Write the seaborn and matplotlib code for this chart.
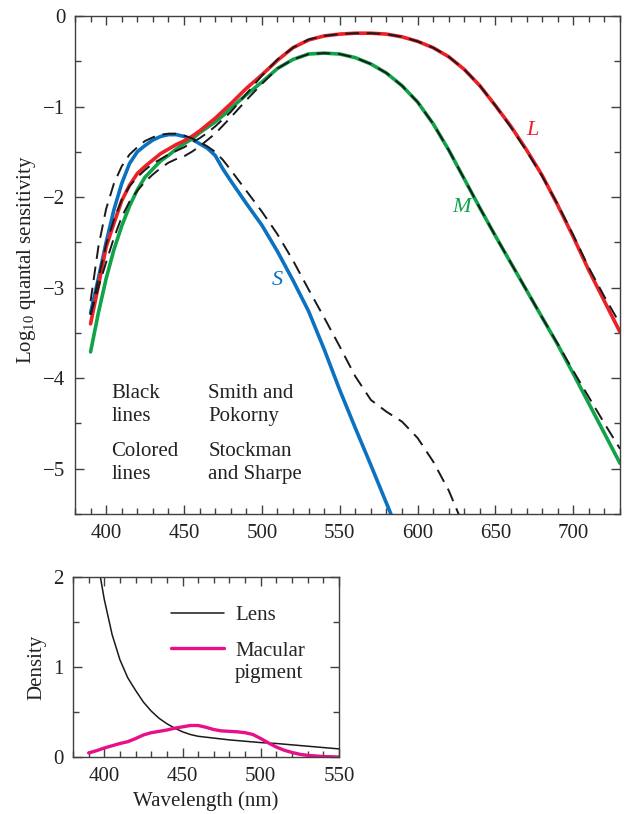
import matplotlib
matplotlib.use('Agg')
import matplotlib.pyplot as plt
import seaborn as sns
import numpy as np
from matplotlib.ticker import MultipleLocator

nan = np.nan

# wavelength grid (nm) for the cone sensitivities
wl = [390, 395, 400, 405, 410, 415, 420, 425, 430, 435, 440, 445, 450, 455, 460,
      465, 470, 475, 480, 490, 500, 510, 520, 530, 540, 550, 560, 570, 580, 590,
      600, 610, 620, 630, 640, 650, 660, 670, 680, 690, 700, 710, 720, 730]

# Stockman and Sharpe (colored lines)
ss_L = [-3.40, -2.98, -2.55, -2.29, -2.04, -1.87, -1.74, -1.66, -1.59, -1.52, -1.47,
        -1.42, -1.38, -1.33, -1.27, -1.20, -1.13, -1.05, -0.97, -0.80, -0.65, -0.49,
        -0.35, -0.265, -0.22, -0.20, -0.19, -0.19, -0.20, -0.23, -0.28, -0.35, -0.45,
        -0.59, -0.77, -0.99, -1.22, -1.48, -1.76, -2.09, -2.44, -2.81, -3.15, -3.49]
ss_M = [-3.71, -3.28, -2.90, -2.58, -2.32, -2.10, -1.92, -1.78, -1.69, -1.60, -1.54,
        -1.47, -1.41, -1.36, -1.29, -1.23, -1.17, -1.10, -1.02, -0.87, -0.73, -0.58,
        -0.48, -0.42, -0.41, -0.42, -0.46, -0.53, -0.63, -0.77, -0.95, -1.19, -1.48,
        -1.80, -2.12, -2.43, -2.73, -3.03, -3.33, -3.63, -3.95, -4.28, -4.61, -4.94]
ss_S = [-3.28, -2.90, -2.50, -2.14, -1.85, -1.63, -1.50, -1.43, -1.37, -1.33, -1.31,
        -1.31, -1.33, -1.36, -1.41, -1.46, -1.54, -1.69, -1.82, -2.07, -2.31, -2.60,
        -2.92, -3.26, -3.68, -4.13, -4.55, -4.96, -5.38, -5.80, nan, nan, nan,
        nan, nan, nan, nan, nan, nan, nan, nan, nan, nan, nan]

# Smith and Pokorny (black dashed lines)
sp_L = [-3.30, -2.90, -2.52, -2.25, -2.03, -1.88, -1.78, -1.70, -1.63, -1.58, -1.53,
        -1.49, -1.45, -1.40, -1.35, -1.29, -1.22, -1.14, -1.06, -0.86, -0.66, -0.48,
        -0.35, -0.26, -0.22, -0.20, -0.19, -0.19, -0.20, -0.23, -0.28, -0.35, -0.45,
        -0.59, -0.77, -0.99, -1.23, -1.49, -1.77, -2.08, -2.42, -2.78, -3.10, -3.40]
sp_M = [-3.30, -3.00, -2.72, -2.45, -2.22, -2.05, -1.93, -1.83, -1.75, -1.68, -1.62,
        -1.58, -1.55, -1.50, -1.44, -1.37, -1.30, -1.21, -1.12, -0.93, -0.75, -0.58,
        -0.48, -0.42, -0.41, -0.42, -0.46, -0.53, -0.63, -0.77, -0.95, -1.19, -1.48,
        -1.80, -2.12, -2.43, -2.73, -3.03, -3.33, -3.62, -3.92, -4.21, -4.50, -4.78]
sp_S = [-3.15, -2.55, -2.13, -1.85, -1.66, -1.53, -1.45, -1.38, -1.34, -1.31, -1.30,
        -1.30, -1.32, -1.35, -1.39, -1.44, -1.50, -1.59, -1.70, -1.93, -2.16, -2.41,
        -2.70, -3.02, -3.33, -3.65, -3.98, -4.24, -4.37, -4.48, -4.66, -4.92, -5.24,
        -5.65, nan, nan, nan, nan, nan, nan, nan, nan, nan, nan]

# lower panel: lens and macular pigment density
lens_wl = [395, 400, 405, 410, 415, 420, 425, 430, 435, 440, 445, 450, 455, 460,
           470, 480, 490, 500, 510, 520, 530, 540, 550]
lens = [2.25, 1.75, 1.36, 1.08, 0.88, 0.74, 0.61, 0.51, 0.43, 0.37, 0.32, 0.28,
        0.25, 0.23, 0.21, 0.19, 0.175, 0.16, 0.15, 0.135, 0.12, 0.105, 0.09]
mac_wl = [390, 395, 400, 405, 410, 415, 420, 425, 430, 435, 440, 445, 450, 455,
          460, 465, 470, 475, 480, 485, 490, 495, 500, 505, 510, 515, 520, 525,
          530, 540, 550]
macular = [0.045, 0.07, 0.10, 0.125, 0.15, 0.17, 0.205, 0.245, 0.27, 0.285, 0.30,
           0.32, 0.335, 0.35, 0.35, 0.33, 0.305, 0.29, 0.285, 0.28, 0.27, 0.25,
           0.205, 0.155, 0.11, 0.075, 0.05, 0.03, 0.018, 0.005, 0.0]

RED = '#ec2027'
GREEN = '#10a34a'
BLUE = '#0a72c0'
MAGENTA = '#e8108a'
DASH = '#1a1a1a'
FS = 15


def style_axes(ax):
    for sp in ax.spines.values():
        sp.set_visible(True)
        sp.set_color('#404040')
        sp.set_linewidth(1.0)
    ax.tick_params(which='both', direction='in', top=True, right=True,
                   bottom=True, left=True, color='#404040', width=1.0,
                   labelsize=FS, pad=7, labelcolor='#222222')
    ax.tick_params(which='major', length=6.5)
    ax.tick_params(which='minor', length=4)


def main():
    sns.set_theme(style='ticks')
    plt.rcParams['font.family'] = ['Liberation Serif', 'DejaVu Serif']
    plt.rcParams['mathtext.fontset'] = 'custom'
    plt.rcParams['mathtext.rm'] = 'Liberation Serif'
    plt.rcParams['mathtext.it'] = 'Liberation Serif:italic'
    plt.rcParams['axes.unicode_minus'] = True

    fig = plt.figure(figsize=(6.24, 8.14), dpi=100)
    ax1 = fig.add_axes([75 / 624, 1 - 514 / 814, 545 / 624, 498 / 814])
    ax2 = fig.add_axes([73 / 624, 1 - 757 / 814, 266 / 624, 180 / 814])

    # top panel
    for vals, col in [(ss_S, BLUE), (ss_M, GREEN), (ss_L, RED)]:
        sns.lineplot(x=wl, y=vals, color=col, linewidth=2.6, ax=ax1, zorder=2)
    for vals in [sp_S, sp_M, sp_L]:
        sns.lineplot(x=wl, y=vals, color=DASH, linewidth=1.4, ax=ax1, zorder=3,
                     dashes=False, linestyle=(0, (7, 4)))

    ax1.set_xlim(380, 730)
    ax1.set_ylim(-5.5, 0)
    ax1.xaxis.set_major_locator(MultipleLocator(50))
    ax1.xaxis.set_minor_locator(MultipleLocator(10))
    ax1.yaxis.set_major_locator(MultipleLocator(1))
    ax1.yaxis.set_minor_locator(MultipleLocator(0.5))
    style_axes(ax1)
    ax1.set_ylabel(r'Log$_{\mathrm{10}}$ quantal sensitivity', fontsize=FS,
                   color='#222222')
    ax1.yaxis.set_label_coords(-0.068, 0.51)

    ax1.text(510, -2.92, 'S', color=BLUE, fontsize=16, style='italic',
             ha='center', va='center')
    ax1.text(628, -2.11, 'M', color=GREEN, fontsize=16, style='italic',
             ha='center', va='center')
    ax1.text(674, -1.27, 'L', color=RED, fontsize=16, style='italic',
             ha='center', va='center')

    kw = dict(fontsize=FS, ha='left', va='center', linespacing=1.3,
              color='#222222')
    ax1.text(403.5, -4.30, 'Black\nlines', **kw)
    ax1.text(465.5, -4.30, 'Smith and\nPokorny', **kw)
    ax1.text(403.5, -4.94, 'Colored\nlines', **kw)
    ax1.text(465.5, -4.94, 'Stockman\nand Sharpe', **kw)

    # bottom panel
    sns.lineplot(x=lens_wl, y=lens, color='#1a1a1a', linewidth=1.1, ax=ax2,
                 label='Lens')
    sns.lineplot(x=mac_wl, y=macular, color=MAGENTA, linewidth=2.4, ax=ax2,
                 label='Macular')
    ax2.set_xlim(380, 550)
    ax2.set_ylim(0, 2)
    ax2.xaxis.set_major_locator(MultipleLocator(50))
    ax2.xaxis.set_minor_locator(MultipleLocator(10))
    ax2.yaxis.set_major_locator(MultipleLocator(1))
    ax2.yaxis.set_minor_locator(MultipleLocator(0.5))
    style_axes(ax2)
    ax2.set_xlabel('Wavelength (nm)', fontsize=FS, color='#222222')
    ax2.set_ylabel('Density', fontsize=FS, color='#222222')
    ax2.yaxis.set_label_coords(-0.10, 0.5)
    ax2.xaxis.set_label_coords(0.5, -0.19)
    ax2.legend(loc='upper left', bbox_to_anchor=(0.37, 0.84), frameon=False,
               fontsize=FS, handlelength=2.5, handletextpad=0.55,
               borderpad=0, borderaxespad=0, labelspacing=0.75)
    ax2.text(0.609, 0.465, 'pigment', transform=ax2.transAxes, fontsize=FS,
             ha='left', va='center', color='#222222')

    fig.savefig('out.png', dpi=100)


if __name__ == '__main__':
    main()
